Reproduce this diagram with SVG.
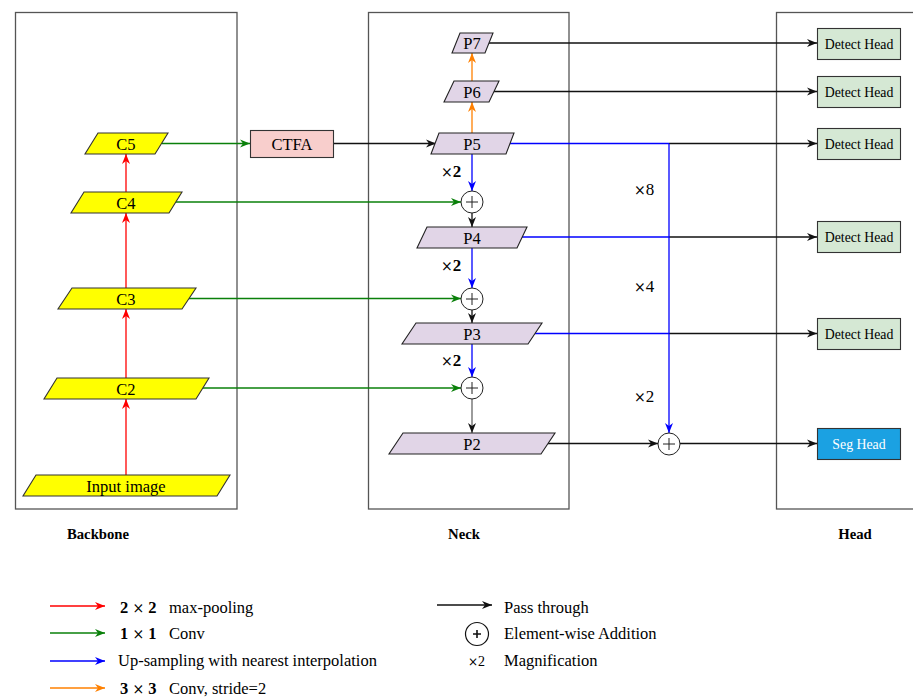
<svg xmlns="http://www.w3.org/2000/svg" width="913" height="697" viewBox="0 0 913 697">
<style>
.frame{fill:none;stroke:#555;stroke-width:1.3}
.t{font-family:"Liberation Serif","Times New Roman",serif;fill:#000}
.n{font-size:16.5px;text-anchor:middle}
.h{font-size:13.8px;text-anchor:middle}
.lbl{font-size:14.7px;font-weight:bold;text-anchor:middle}
.lg{font-size:16.5px}
.mx{font-size:17px}
.yel{fill:#ffff00;stroke:#333;stroke-width:1.1}
.lav{fill:#e1d5e7;stroke:#222;stroke-width:1.1}
.det{fill:#d5e8d4;stroke:#333;stroke-width:1.1}
.seg{fill:#1ba1e2;stroke:#333;stroke-width:1.1}
.pl{fill:#fff;stroke:#222;stroke-width:1}
.c{fill:none;stroke-width:1.3}
.r{stroke:#ff0000}.g{stroke:#0a800a}.b{stroke:#0000ff}.o{stroke:#ff8000}.k{stroke:#111}
</style>
<defs>
<marker id="mr" viewBox="0 0 10 10" refX="10" refY="5" markerWidth="10" markerHeight="10" markerUnits="userSpaceOnUse" orient="auto"><path d="M0,1 L10,5 L0,9 L3,5 z" fill="#ff0000"/></marker>
<marker id="mg" viewBox="0 0 10 10" refX="10" refY="5" markerWidth="10" markerHeight="10" markerUnits="userSpaceOnUse" orient="auto"><path d="M0,1 L10,5 L0,9 L3,5 z" fill="#0a800a"/></marker>
<marker id="mb" viewBox="0 0 10 10" refX="10" refY="5" markerWidth="10" markerHeight="10" markerUnits="userSpaceOnUse" orient="auto"><path d="M0,1 L10,5 L0,9 L3,5 z" fill="#0000ff"/></marker>
<marker id="mo" viewBox="0 0 10 10" refX="10" refY="5" markerWidth="10" markerHeight="10" markerUnits="userSpaceOnUse" orient="auto"><path d="M0,1 L10,5 L0,9 L3,5 z" fill="#ff8000"/></marker>
<marker id="mk" viewBox="0 0 10 10" refX="10" refY="5" markerWidth="10" markerHeight="10" markerUnits="userSpaceOnUse" orient="auto"><path d="M0,1 L10,5 L0,9 L3,5 z" fill="#111"/></marker>
</defs>
<rect width="913" height="697" fill="#fff"/>

<g id="frames">
<rect class="frame" x="15.5" y="12.5" width="221.5" height="496.5"/>
<rect class="frame" x="368.5" y="12.5" width="200.5" height="496.5"/>
<rect class="frame" x="776.5" y="12.5" width="140" height="496.5"/>
<text class="t lbl" x="98" y="539">Backbone</text>
<text class="t lbl" x="464" y="539">Neck</text>
<text class="t lbl" x="855" y="539">Head</text>
</g>

<g id="connectors">
<line class="c r" x1="126" y1="475" x2="126" y2="399" marker-end="url(#mr)"/>
<line class="c r" x1="126" y1="378" x2="126" y2="309" marker-end="url(#mr)"/>
<line class="c r" x1="126" y1="288" x2="126" y2="213" marker-end="url(#mr)"/>
<line class="c r" x1="126" y1="192" x2="126" y2="154" marker-end="url(#mr)"/>
<line class="c g" x1="162" y1="143.5" x2="250" y2="143.5" marker-end="url(#mg)"/>
<line class="c g" x1="176" y1="202" x2="461" y2="202" marker-end="url(#mg)"/>
<line class="c g" x1="189" y1="298.5" x2="461" y2="298.5" marker-end="url(#mg)"/>
<line class="c g" x1="203" y1="388" x2="461" y2="388" marker-end="url(#mg)"/>
<line class="c k" x1="333" y1="143.5" x2="436" y2="143.5" marker-end="url(#mk)"/>
<line class="c o" x1="472" y1="133" x2="472" y2="102" marker-end="url(#mo)"/>
<line class="c o" x1="472" y1="81" x2="472" y2="53" marker-end="url(#mo)"/>
<line class="c b" x1="472" y1="154" x2="472" y2="191" marker-end="url(#mb)"/>
<line class="c b" x1="472" y1="248" x2="472" y2="288" marker-end="url(#mb)"/>
<line class="c b" x1="472" y1="344" x2="472" y2="377" marker-end="url(#mb)"/>
<line class="c k" x1="472" y1="213" x2="472" y2="227" marker-end="url(#mk)"/>
<line class="c k" x1="472" y1="310" x2="472" y2="323" marker-end="url(#mk)"/>
<line class="c" stroke="#666" x1="472" y1="399" x2="472" y2="433" marker-end="url(#mk)"/>
<line class="c k" x1="489" y1="43" x2="817" y2="43" marker-end="url(#mk)"/>
<line class="c k" x1="494" y1="91.5" x2="817" y2="91.5" marker-end="url(#mk)"/>
<line class="c b" x1="510" y1="143.5" x2="669" y2="143.5"/>
<line class="c k" x1="669" y1="143.5" x2="817" y2="143.5" marker-end="url(#mk)"/>
<line class="c b" x1="522" y1="237" x2="669" y2="237"/>
<line class="c k" x1="669" y1="237" x2="817" y2="237" marker-end="url(#mk)"/>
<line class="c b" x1="535" y1="333.5" x2="669" y2="333.5"/>
<line class="c k" x1="669" y1="333.5" x2="817" y2="333.5" marker-end="url(#mk)"/>
<line class="c b" x1="669" y1="143.5" x2="669" y2="433" marker-end="url(#mb)"/>
<line class="c k" x1="548" y1="443.5" x2="658" y2="443.5" marker-end="url(#mk)"/>
<line class="c k" x1="680" y1="443.5" x2="817" y2="443.5" marker-end="url(#mk)"/>
</g>

<g id="C5"><polygon class="yel" points="98,133 168,133 155,154 85,154"/><text class="t n" x="126" y="149.5">C5</text></g>
<g id="C4"><polygon class="yel" points="84,192 182,192 169,213 71,213"/><text class="t n" x="126" y="208.5">C4</text></g>
<g id="C3"><polygon class="yel" points="72,288 196,288 182,309 58,309"/><text class="t n" x="126" y="304.5">C3</text></g>
<g id="C2"><polygon class="yel" points="57,378 209,378 196,399 44,399"/><text class="t n" x="126" y="394.5">C2</text></g>
<g id="Input"><polygon class="yel" points="36,475 230,475 217,496 23,496"/><text class="t n" x="126" y="491.5">Input image</text></g>

<g id="CTFA"><rect x="250.5" y="130.5" width="83" height="27" fill="#f8cecc" stroke="#333" stroke-width="1.1"/><text class="t n" x="292" y="149.5">CTFA</text></g>

<g id="P7"><polygon class="lav" points="460,33 493,33 485,53 452,53"/><text class="t n" x="472" y="48.5">P7</text></g>
<g id="P6"><polygon class="lav" points="454,81 499,81 489,102 444,102"/><text class="t n" x="472" y="97.5">P6</text></g>
<g id="P5"><polygon class="lav" points="439,133 514,133 506,154 431,154"/><text class="t n" x="472" y="149.5">P5</text></g>
<g id="P4"><polygon class="lav" points="427,227 527,227 517,248 417,248"/><text class="t n" x="472" y="243.5">P4</text></g>
<g id="P3"><polygon class="lav" points="416,323 542,323 528,344 402,344"/><text class="t n" x="472" y="339.5">P3</text></g>
<g id="P2"><polygon class="lav" points="403,433 555,433 541,454 389,454"/><text class="t n" x="472" y="449.5">P2</text></g>

<g id="add1"><circle class="pl" cx="472" cy="202" r="11"/><path d="M466,202h12M472,196v12" stroke="#222" stroke-width="1"/></g>
<g id="add2"><circle class="pl" cx="472" cy="299" r="11"/><path d="M466,299h12M472,293v12" stroke="#222" stroke-width="1"/></g>
<g id="add3"><circle class="pl" cx="472" cy="388" r="11"/><path d="M466,388h12M472,382v12" stroke="#222" stroke-width="1"/></g>
<g id="add4"><circle class="pl" cx="669" cy="444" r="11"/><path d="M663,444h12M669,438v12" stroke="#222" stroke-width="1"/></g>

<g id="mag">
<text class="t mx" x="441" y="177"><tspan font-family="DejaVu Serif" font-size="14">×</tspan><tspan font-weight="bold">2</tspan></text>
<text class="t mx" x="441" y="271"><tspan font-family="DejaVu Serif" font-size="14">×</tspan><tspan font-weight="bold">2</tspan></text>
<text class="t mx" x="441" y="366"><tspan font-family="DejaVu Serif" font-size="14">×</tspan><tspan font-weight="bold">2</tspan></text>
<text class="t mx" x="634" y="195"><tspan font-family="DejaVu Serif" font-size="14">×</tspan>8</text>
<text class="t mx" x="634" y="292"><tspan font-family="DejaVu Serif" font-size="14">×</tspan>4</text>
<text class="t mx" x="634" y="402"><tspan font-family="DejaVu Serif" font-size="14">×</tspan>2</text>
</g>

<g id="DH1"><rect class="det" x="817.5" y="28.5" width="83" height="31"/><text class="t h" x="859" y="48.5">Detect Head</text></g>
<g id="DH2"><rect class="det" x="817.5" y="76.5" width="83" height="31"/><text class="t h" x="859" y="96.5">Detect Head</text></g>
<g id="DH3"><rect class="det" x="817.5" y="128.5" width="83" height="31"/><text class="t h" x="859" y="148.5">Detect Head</text></g>
<g id="DH4"><rect class="det" x="817.5" y="221.5" width="83" height="31"/><text class="t h" x="859" y="241.5">Detect Head</text></g>
<g id="DH5"><rect class="det" x="817.5" y="318.5" width="83" height="31"/><text class="t h" x="859" y="338.5">Detect Head</text></g>
<g id="Seg"><rect class="seg" x="817.5" y="428.5" width="83" height="31"/><text class="t h" x="859" y="448.5" style="fill:#fff">Seg Head</text></g>

<g id="legend">
<line class="c r" x1="50" y1="606" x2="105" y2="606" marker-end="url(#mr)"/>
<line class="c g" x1="50" y1="633" x2="105" y2="633" marker-end="url(#mg)"/>
<line class="c b" x1="50" y1="661" x2="105" y2="661" marker-end="url(#mb)"/>
<line class="c o" x1="50" y1="688" x2="105" y2="688" marker-end="url(#mo)"/>
<text class="t lg" x="120" y="613"><tspan font-weight="bold">2</tspan> <tspan font-family="DejaVu Serif" font-size="14">×</tspan> <tspan font-weight="bold">2</tspan></text>
<text class="t lg" x="169" y="613">max-pooling</text>
<text class="t lg" x="120" y="639"><tspan font-weight="bold">1</tspan> <tspan font-family="DejaVu Serif" font-size="14">×</tspan> <tspan font-weight="bold">1</tspan></text>
<text class="t lg" x="169" y="639">Conv</text>
<text class="t lg" x="118" y="666">Up-sampling with nearest interpolation</text>
<text class="t lg" x="120" y="694"><tspan font-weight="bold">3</tspan> <tspan font-family="DejaVu Serif" font-size="14">×</tspan> <tspan font-weight="bold">3</tspan></text>
<text class="t lg" x="169" y="694">Conv, stride=2</text>
<line class="c k" x1="437" y1="605" x2="492" y2="605" marker-end="url(#mk)"/>
<text class="t lg" x="504" y="613">Pass through</text>
<circle cx="477" cy="634" r="11.5" fill="#fff" stroke="#111" stroke-width="1.2"/>
<path d="M473,634h8M477,630v8" stroke="#111" stroke-width="1.6"/>
<text class="t lg" x="504" y="639">Element-wise Addition</text>
<text class="t" font-size="14" x="468" y="666"><tspan font-family="DejaVu Serif" font-size="12">×</tspan>2</text>
<text class="t lg" x="504" y="666">Magnification</text>
</g>
</svg>
